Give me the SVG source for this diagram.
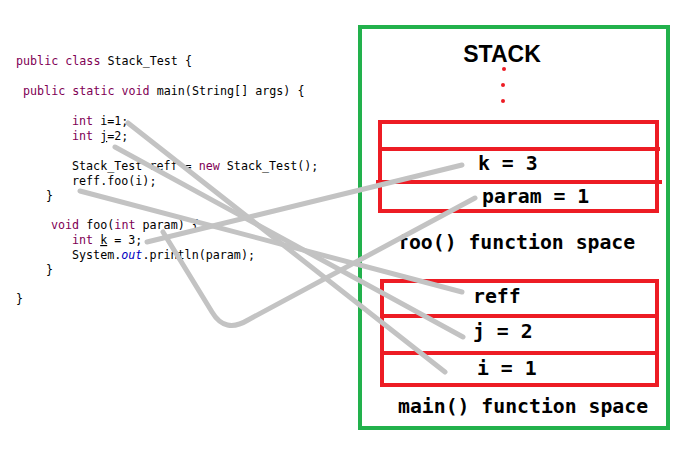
<svg xmlns="http://www.w3.org/2000/svg" width="689" height="458" viewBox="0 0 689 458">
<style>
.code{font-family:"DejaVu Sans Mono","Liberation Mono",monospace;font-size:11.7px;fill:#000}
.kw{fill:#7f0055}
.fld{fill:#0000c0;font-style:italic}
.ul{text-decoration:underline}
.lbl{font-family:"DejaVu Sans Mono","Liberation Mono",monospace;font-weight:bold;font-size:19.8px;fill:#000}
.red{fill:none;stroke:#ed1c24;stroke-width:4}
.redl{stroke:#ed1c24;stroke-width:4}
.gray{fill:none;stroke:#c3c3c3;stroke-width:5;stroke-linecap:round;stroke-linejoin:round}
</style>
<rect width="689" height="458" fill="#fff"/>
<g id="code">
<text class="code" x="16" y="65"><tspan class="kw">public class</tspan> Stack_Test {</text>
<text class="code" x="23" y="95"><tspan class="kw">public static void</tspan> main(String[] args) {</text>
<text class="code" x="72" y="125"><tspan class="kw">int</tspan> i=1;</text>
<text class="code" x="72" y="140"><tspan class="kw">int</tspan> <tspan class="ul">j</tspan>=2;</text>
<text class="code" x="72" y="170">Stack_Test reff = <tspan class="kw">new</tspan> Stack_Test();</text>
<text class="code" x="72" y="185">reff.foo(i);</text>
<text class="code" x="46" y="200">}</text>
<text class="code" x="51" y="229"><tspan class="kw">void</tspan> foo(<tspan class="kw">int</tspan> param) {</text>
<text class="code" x="72" y="244"><tspan class="kw">int</tspan> <tspan class="ul">k</tspan> = 3;</text>
<text class="code" x="72" y="259">System.<tspan class="fld">out</tspan>.println(param);</text>
<text class="code" x="46" y="274">}</text>
<text class="code" x="16" y="303">}</text>
</g>
<g id="stack">
<rect x="360" y="27" width="308" height="401" fill="none" stroke="#22b14c" stroke-width="4"/>
<text x="502" y="62" text-anchor="middle" font-family="Liberation Sans,Arial,sans-serif" font-weight="bold" font-size="23" fill="#000">STACK</text>
<circle cx="504" cy="69" r="2" fill="#ed1c24"/>
<circle cx="503" cy="85" r="2" fill="#ed1c24"/>
<circle cx="503" cy="101" r="2" fill="#ed1c24"/>
</g>
<g id="foo-frame">
<rect class="red" x="380" y="122" width="277" height="89"/>
<line class="redl" x1="380" y1="149" x2="660" y2="149"/>
<line class="redl" x1="376" y1="182" x2="662" y2="182"/>
<text class="lbl" x="478" y="170">k = 3</text>
<text class="lbl" x="482" y="203">param = 1</text>
<text class="lbl" x="397" y="249">foo() function space</text>
</g>
<g id="main-frame">
<rect class="red" x="382" y="281" width="275" height="104"/>
<line class="redl" x1="382" y1="316" x2="657" y2="316"/>
<line class="redl" x1="382" y1="353" x2="659" y2="353"/>
<text class="lbl" x="473" y="303">reff</text>
<text class="lbl" x="473" y="338">j = 2</text>
<text class="lbl" x="477" y="375">i = 1</text>
<text class="lbl" x="398" y="413">main() function space</text>
</g>
<g id="connectors">
<path class="gray" d="M128,123 L445,372"/>
<path class="gray" d="M115,147 L463,337"/>
<path class="gray" d="M80,191 L462,292"/>
<path class="gray" d="M147,242 L462,165"/>
<path class="gray" d="M163,232 L212,312 Q225,334 248,320 L475,198"/>
</g>
</svg>
